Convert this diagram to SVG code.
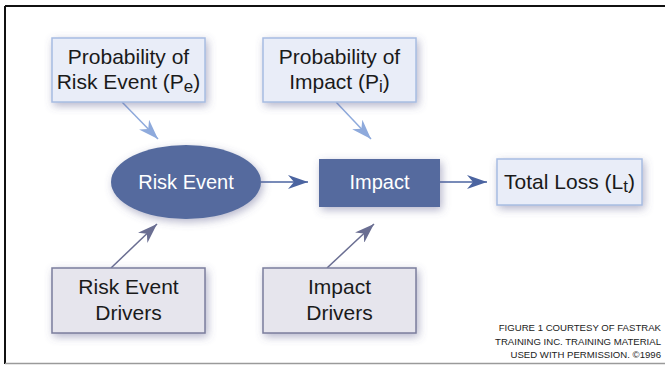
<svg xmlns="http://www.w3.org/2000/svg" width="665" height="365" viewBox="0 0 665 365">
<defs>
<filter id="sh" x="-30%" y="-40%" width="160%" height="180%">
<feDropShadow dx="2" dy="3" stdDeviation="4" flood-color="#5a5a8c" flood-opacity="0.45"/>
</filter>
<marker id="hL" viewBox="0 0 20 14" refX="20" refY="7" markerWidth="20" markerHeight="14" markerUnits="userSpaceOnUse" orient="auto">
<path d="M20,7 L0,0 L6,7 L0,14 Z" fill="#8eaadc"/>
</marker>
<marker id="hD" viewBox="0 0 20 14" refX="20" refY="7" markerWidth="22" markerHeight="14" markerUnits="userSpaceOnUse" orient="auto">
<path d="M20,7 L0,0 L6,7 L0,14 Z" fill="#4b64a0"/>
</marker>
<marker id="hG" viewBox="0 0 20 14" refX="20" refY="7" markerWidth="20" markerHeight="14" markerUnits="userSpaceOnUse" orient="auto">
<path d="M20,7 L0,0 L6,7 L0,14 Z" fill="#6a6e92"/>
</marker>
</defs>
<style>
text{font-family:"Liberation Sans",Arial,sans-serif;}
.lbl{font-size:21px;fill:#1a1a1a;text-anchor:middle;}
.wl{font-size:20px;fill:#ffffff;text-anchor:middle;}
.sub{font-size:17px;}
.pb{fill:#e9edf8;stroke:#a7bce2;stroke-width:1.5;}
.db{fill:#e6e5ed;stroke:#7b7d9d;stroke-width:1.5;}
.dk{fill:#546b9e;}
.note{font-size:9.6px;fill:#222;text-anchor:end;}
</style>
<rect x="0" y="0" width="665" height="365" fill="#ffffff"/>
<line x1="5" y1="6" x2="665" y2="6" stroke="#111" stroke-width="2"/>
<line x1="5" y1="6" x2="5" y2="364" stroke="#111" stroke-width="2"/>
<line x1="5" y1="363.5" x2="665" y2="363.5" stroke="#9a9a9a" stroke-width="1.5"/>

<g id="connectors" fill="none" stroke-width="1.5">
<line x1="122" y1="102" x2="158" y2="139" stroke="#8eaadc" marker-end="url(#hL)"/>
<line x1="336" y1="102" x2="371" y2="139" stroke="#8eaadc" marker-end="url(#hL)"/>
<line x1="261" y1="182" x2="308" y2="182" stroke="#4b64a0" marker-end="url(#hD)"/>
<line x1="440" y1="182" x2="487" y2="182" stroke="#4b64a0" marker-end="url(#hD)"/>
<line x1="111" y1="268" x2="157" y2="224" stroke="#6a6e92" marker-end="url(#hG)"/>
<line x1="327" y1="268" x2="374" y2="224" stroke="#6a6e92" marker-end="url(#hG)"/>
</g>

<g id="prob-risk-event">
<rect class="pb" x="52" y="38" width="153" height="64" filter="url(#sh)"/>
<text class="lbl" x="128.5" y="64">Probability of</text>
<text class="lbl" x="128.5" y="89">Risk Event (P<tspan class="sub" dy="3">e</tspan><tspan dy="-3">)</tspan></text>
</g>

<g id="prob-impact">
<rect class="pb" x="263" y="38" width="153" height="64" filter="url(#sh)"/>
<text class="lbl" x="339.5" y="64">Probability of</text>
<text class="lbl" x="339.5" y="89">Impact (P<tspan class="sub" dy="3">i</tspan><tspan dy="-3">)</tspan></text>
</g>

<g id="risk-event">
<ellipse class="dk" cx="186" cy="182" rx="75" ry="37" filter="url(#sh)"/>
<text class="wl" x="186" y="189">Risk Event</text>
</g>

<g id="impact">
<rect class="dk" x="319" y="159" width="121" height="48" filter="url(#sh)"/>
<text class="wl" x="379.5" y="189">Impact</text>
</g>

<g id="total-loss">
<rect class="pb" x="497" y="159" width="145" height="46" filter="url(#sh)"/>
<text class="lbl" x="569.5" y="189">Total Loss (L<tspan class="sub" dy="3">t</tspan><tspan dy="-3">)</tspan></text>
</g>

<g id="risk-event-drivers">
<rect class="db" x="52" y="268" width="153" height="65" filter="url(#sh)"/>
<text class="lbl" x="128.5" y="294">Risk Event</text>
<text class="lbl" x="128.5" y="320">Drivers</text>
</g>

<g id="impact-drivers">
<rect class="db" x="263" y="268" width="153" height="65" filter="url(#sh)"/>
<text class="lbl" x="339.5" y="294">Impact</text>
<text class="lbl" x="339.5" y="320">Drivers</text>
</g>

<g id="credit">
<text class="note" x="661" y="331">FIGURE 1 COURTESY OF FASTRAK</text>
<text class="note" x="661" y="345">TRAINING INC. TRAINING MATERIAL</text>
<text class="note" x="661" y="358">USED WITH PERMISSION. ©1996</text>
</g>
</svg>
